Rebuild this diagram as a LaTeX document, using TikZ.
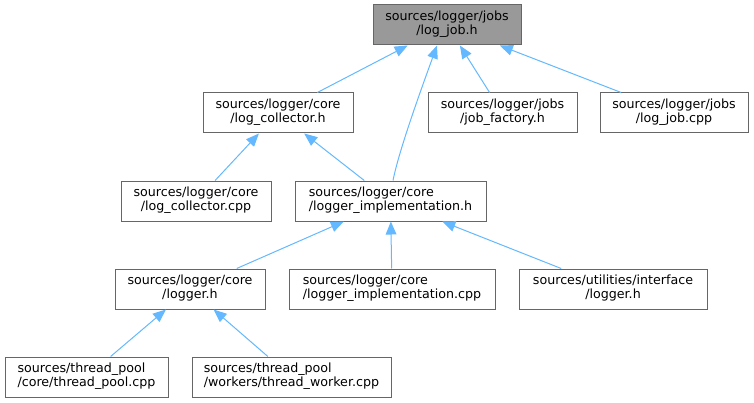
\documentclass[tikz,border=0pt]{standalone}
\usepackage{fontspec}
\setmainfont{DejaVu Sans}
\usetikzlibrary{arrows.meta,calc}
\definecolor{edgec}{HTML}{63B8FF}
\definecolor{boxc}{HTML}{666666}
\definecolor{topfill}{HTML}{999999}
\newcommand\twolab[2]{\begin{tabular}{@{}c@{}}\multicolumn{1}{@{}l@{}}{#1}\\#2\end{tabular}}
\begin{document}
\begin{tikzpicture}[x=0.75pt,y=-0.75pt,
  file/.style={draw=boxc, line width=0.75pt, fill=white, minimum height=30pt, inner sep=0pt,
    minimum width=#1*0.75pt, font=\fontsize{9.5}{10.1}\selectfont},
  edge/.style={draw=edgec, line width=0.75pt, -{Triangle[length=9.75pt,width=8pt,fill=edgec]}}]
\useasboundingbox (0,0) rectangle (754,403);

\node[file=148, fill=topfill] (top) at (447,25) {\twolab{sources/logger/jobs}{/log\_job.h}};
\node[file=150] (lch) at (278,113) {\twolab{sources/logger/core}{/log\_collector.h}};
\node[file=149] (jf) at (502.5,113) {\twolab{sources/logger/jobs}{/job\_factory.h}};
\node[file=148] (ljc) at (674,113) {\twolab{sources/logger/jobs}{/log\_job.cpp}};
\node[file=150] (lcc) at (196,201) {\twolab{sources/logger/core}{/log\_collector.cpp}};
\node[file=191] (lih) at (390.5,201) {\twolab{sources/logger/core}{/logger\_implementation.h}};
\node[file=150] (lg) at (190,289) {\twolab{sources/logger/core}{/logger.h}};
\node[file=206] (lic) at (392,289) {\twolab{sources/logger/core}{/logger\_implementation.cpp}};
\node[file=188] (ui) at (613,289) {\twolab{sources/utilities/interface}{/logger.h}};
\node[file=163] (tp) at (86.5,377) {\twolab{sources/thread\_pool}{/core/thread\_pool.cpp}};
\node[file=199] (tw) at (291.5,377) {\twolab{sources/thread\_pool}{/workers/thread\_worker.cpp}};

\draw[edge] (lch) -- (top);
\draw[edge] ($(lih.north)+(2.5,0)$) .. controls (399,150) and (422,87) .. ($(top.south)+(-10,0)$);
\draw[edge] (jf) -- (top);
\draw[edge] (ljc) -- (top);
\draw[edge] (lcc) -- (lch);
\draw[edge] (lih) -- (lch);
\draw[edge] (lg) -- (lih);
\draw[edge] (lic) -- (lih);
\draw[edge] (ui) -- (lih);
\draw[edge] (tp) -- (lg);
\draw[edge] (tw) -- (lg);
\end{tikzpicture}
\end{document}
